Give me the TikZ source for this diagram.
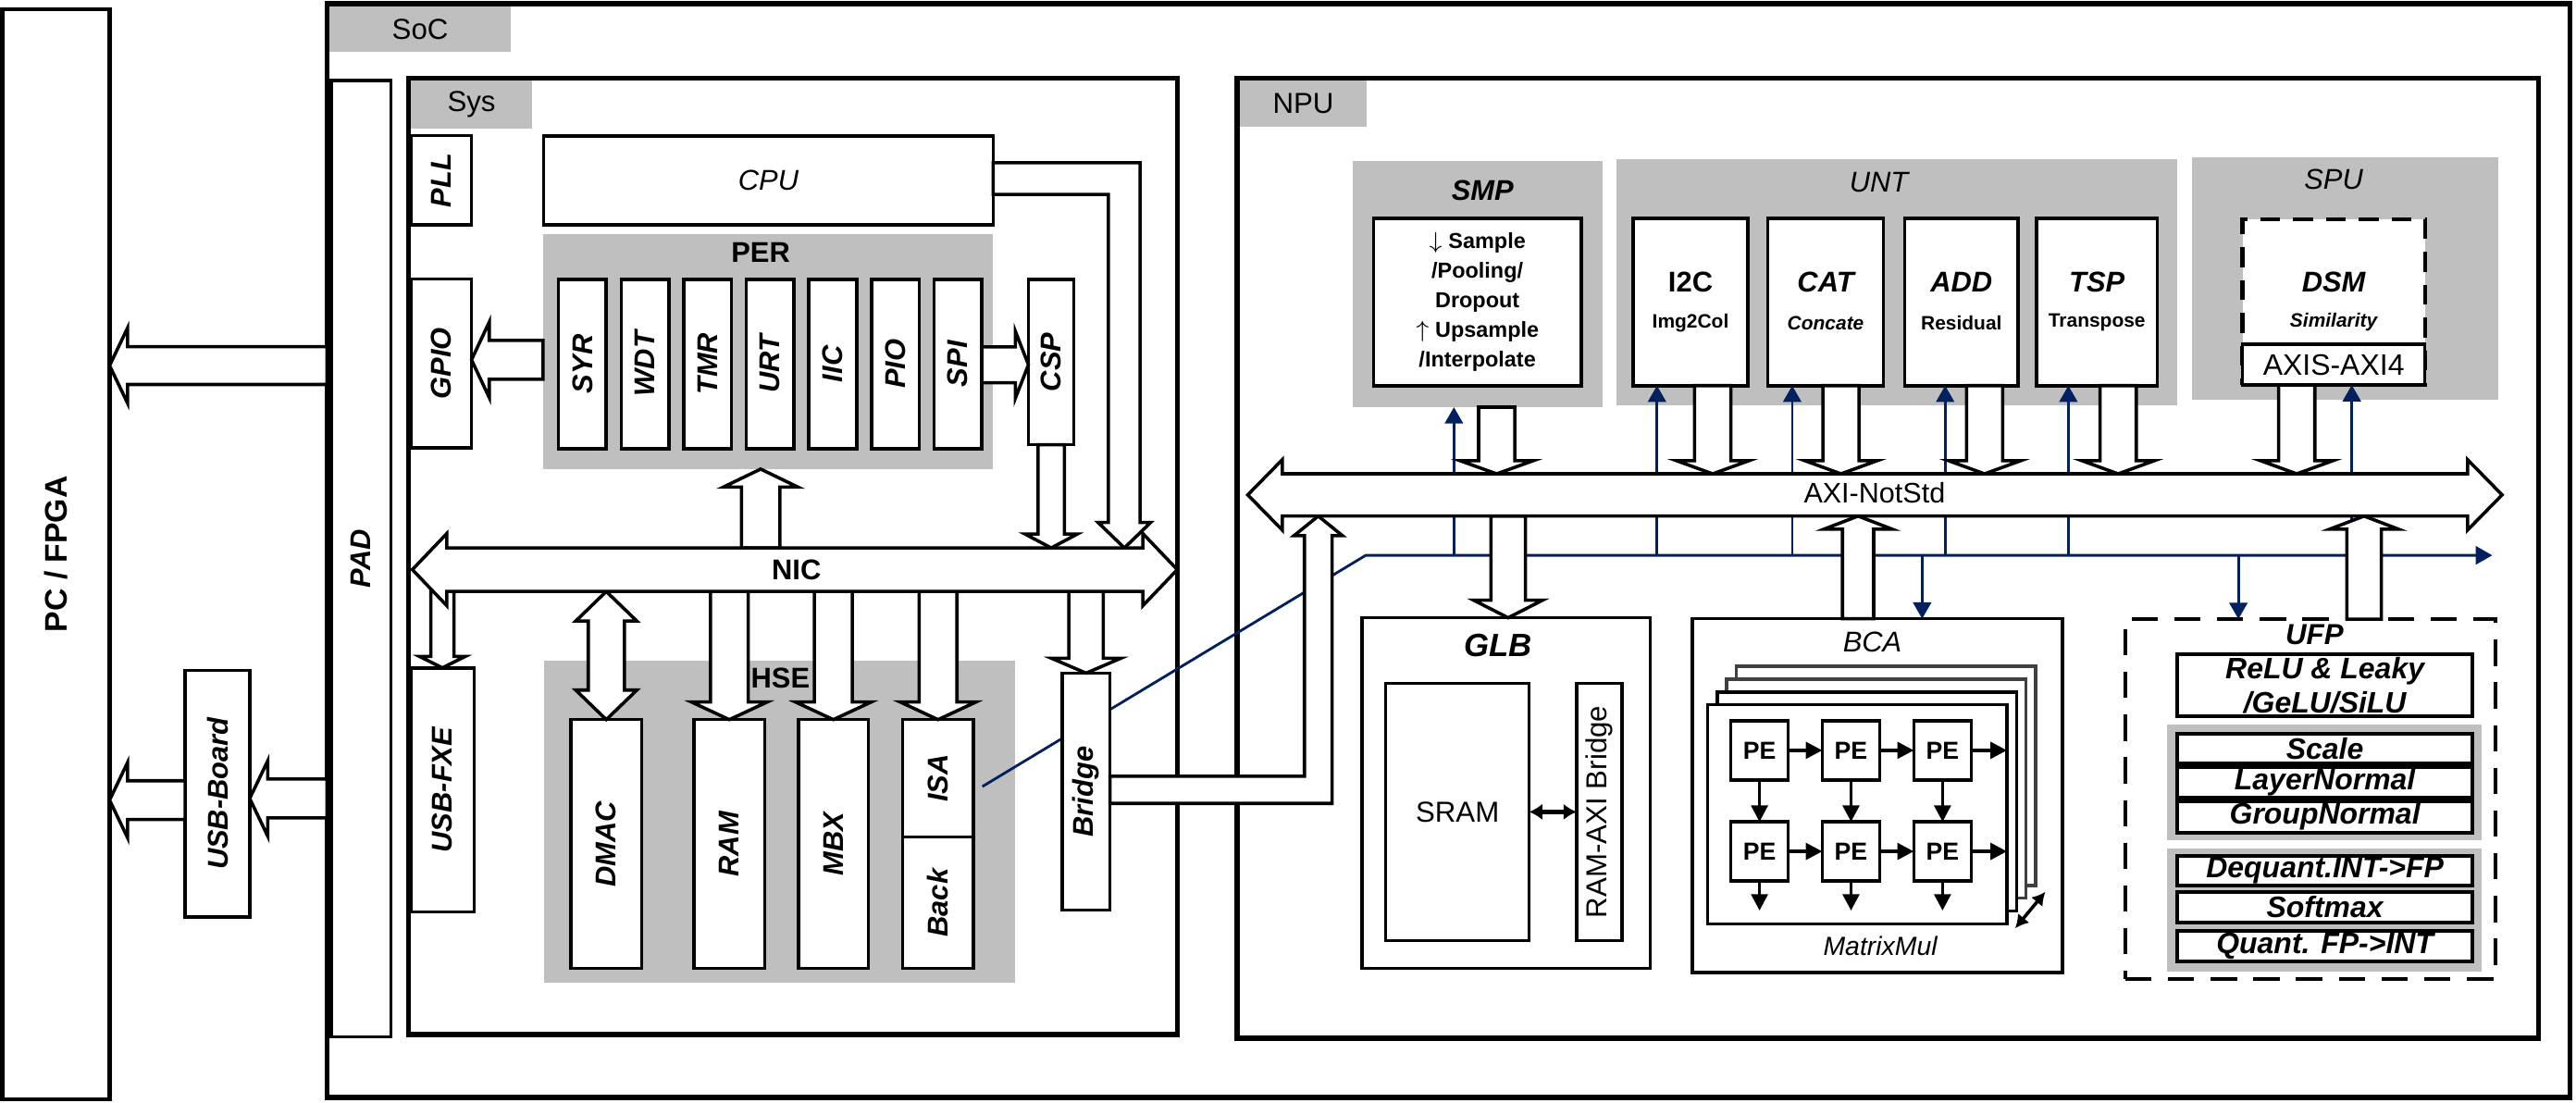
\documentclass[tikz,border=0pt]{standalone}
\usepackage{fontspec}
\setmainfont{Liberation Sans}
\usetikzlibrary{calc,arrows.meta}

\definecolor{boxgray}{RGB}{191,191,191}
\definecolor{busblue}{RGB}{0,32,96}
\definecolor{laygray}{RGB}{64,64,64}

\newcommand{\fs}[1]{\fontsize{#1}{#1}\selectfont}

% block given by its corners (pixel units)
\newcommand{\blk}[7][]{%
  \node[box, minimum width={((#5)-(#3))*0.5pt}, minimum height={((#6)-(#4))*0.5pt}, #1]
    (#2) at ({((#3)+(#5))/2},{((#4)+(#6))/2}) {#7};}

% hollow arrow: tail, tip, shaft half width, head half width, head length
\newcommand{\fatarrow}[5]{%
  \path let \p1=#1, \p2=#2 in \pgfextra{%
    \pgfmathsetmacro\fatA{atan2((\y2)-(\y1),(\x2)-(\x1))}%
    \pgfmathsetmacro\fatL{veclen((\x2)-(\x1),(\y2)-(\y1))}%
    \xdef\fatang{\fatA}\xdef\fatlen{\fatL}\xdef\fatx{\x1}\xdef\faty{\y1}};
  \draw[fat, shift={(\fatx,\faty)}, rotate=\fatang]
    (0pt,{-#3*0.5pt}) -- ({\fatlen*1pt-#5*0.5pt},{-#3*0.5pt}) -- ({\fatlen*1pt-#5*0.5pt},{-#4*0.5pt})
    -- ({\fatlen*1pt},0pt) -- ({\fatlen*1pt-#5*0.5pt},{#4*0.5pt}) -- ({\fatlen*1pt-#5*0.5pt},{#3*0.5pt})
    -- (0pt,{#3*0.5pt}) -- cycle;}

% hollow arrow with two heads
\newcommand{\fatdouble}[5]{%
  \path let \p1=#1, \p2=#2 in \pgfextra{%
    \pgfmathsetmacro\fatA{atan2((\y2)-(\y1),(\x2)-(\x1))}%
    \pgfmathsetmacro\fatL{veclen((\x2)-(\x1),(\y2)-(\y1))}%
    \xdef\fatang{\fatA}\xdef\fatlen{\fatL}\xdef\fatx{\x1}\xdef\faty{\y1}};
  \draw[fat, shift={(\fatx,\faty)}, rotate=\fatang]
    ({#5*0.5pt},{-#3*0.5pt}) -- ({\fatlen*1pt-#5*0.5pt},{-#3*0.5pt}) -- ({\fatlen*1pt-#5*0.5pt},{-#4*0.5pt})
    -- ({\fatlen*1pt},0pt) -- ({\fatlen*1pt-#5*0.5pt},{#4*0.5pt}) -- ({\fatlen*1pt-#5*0.5pt},{#3*0.5pt})
    -- ({#5*0.5pt},{#3*0.5pt}) -- ({#5*0.5pt},{#4*0.5pt}) -- (0pt,0pt) -- ({#5*0.5pt},{-#4*0.5pt}) -- cycle;}

\tikzset{
  box/.style={draw, line width=1pt, fill=white, inner sep=0pt, outer sep=0pt},
  outerbox/.style={line width=1.5pt},
  grp/.style={draw=none, fill=boxgray},
  fat/.style={draw, line width=1pt, fill=white},
  sig/.style={draw=busblue, line width=0.8pt, -{Triangle[length=5pt,width=5.5pt]}},
  pearr/.style={line width=1pt, -{Triangle[length=5pt,width=5pt]}},
  tR/.style={font=\fs{8.8}},
  tB/.style={font=\fs{8.7}\bfseries},
  tI/.style={font=\fs{8.7}\itshape},
  tBI/.style={font=\fs{8.7}\bfseries\itshape},
  tS/.style={font=\fs{5.9}\bfseries},
  tSI/.style={font=\fs{5.9}\bfseries\itshape},
  tU/.style={font=\fs{9}\bfseries\itshape}
}

\begin{document}
\begin{tikzpicture}[x=0.5pt, y=-0.5pt]
\useasboundingbox (0,0) rectangle (1568,671);

% host and SoC frame
\blk[outerbox, line width=1.25pt, font=\fs{9.5}\bfseries]{pc}{1.5}{5.5}{66.7}{669}{\rotatebox{90}{PC / FPGA}}
\blk[outerbox]{soc}{199}{2.2}{1564.5}{668}{}
\blk[grp, tR]{soclbl}{200.5}{3.7}{311}{31.7}{SoC}
\blk[tBI]{pad}{201.5}{49}{238}{631}{\rotatebox{90}{PAD}}
\blk[tBI]{usbb}{112.7}{408}{152}{558}{\rotatebox{90}{USB-Board}}

% Sys
\blk[outerbox]{sys}{248.5}{47.5}{716.5}{629.7}{}
\blk[grp, tR]{syslbl}{250}{49}{324}{78}{Sys}
\blk[tBI]{pll}{250}{82.6}{287}{137}{\rotatebox{90}{PLL}}
\blk[tI]{cpu}{331}{82.7}{604.5}{137}{CPU}
\blk[grp]{per}{330.5}{142.4}{604.5}{285.5}{}
\node[tB] (perlbl) at (463,153.4) {PER};
\foreach \n/\lab [count=\pos from 0] in {syr/SYR,wdt/WDT,tmr/TMR,urt/URT,iic/IIC,pio/PIO,spi/SPI} {
  \blk[tBI]{\n}{340+38.1*\pos}{170}{369+38.1*\pos}{273}{\rotatebox{90}{\lab}}
}
\blk[tBI]{csp}{626}{170}{653.7}{270.7}{\rotatebox{90}{CSP}}
\blk[tBI]{gpio}{250}{169.7}{287}{272.7}{\rotatebox{90}{GPIO}}
\blk[tBI]{usbf}{250}{406.5}{288.6}{555}{\rotatebox{90}{USB-FXE}}
\blk[grp]{hse}{331}{402}{617.7}{598.4}{}
\node[tB] (hselbl) at (475,412.5) {HSE};
\blk[tBI]{dmac}{347.5}{438}{390.6}{589.5}{\rotatebox{90}{DMAC}}
\blk[tBI]{ram}{422.4}{438}{465.5}{589.5}{\rotatebox{90}{RAM}}
\blk[tBI]{mbx}{486}{438}{528.5}{589.5}{\rotatebox{90}{MBX}}
\blk[tBI]{isa}{549.5}{438}{592.5}{509.4}{\rotatebox{90}{ISA}}
\blk[tBI]{back}{549.5}{509.4}{592.5}{589.5}{\rotatebox{90}{Back}}

% NPU
\blk[outerbox]{npu}{753}{47.5}{1545}{632}{}
\blk[grp, tR]{npulbl}{754.6}{49}{832}{77}{NPU}
\blk[grp]{smp}{823.4}{98}{975.5}{247.8}{}
\node[tBI] (smplbl) at (902.4,115.7) {SMP};
\blk[font=\fontsize{6.6}{9}\selectfont\bfseries, align=center]{smpin}{836}{133}{962.5}{235}{$\downarrow$ Sample\\/Pooling/\\Dropout\\$\uparrow$ Upsample\\/Interpolate}
\blk[grp]{unt}{984}{97}{1325}{246.5}{}
\node[tI] (untlbl) at (1143.6,111) {UNT};
\blk{i2c}{994}{133}{1064}{234.7}{}
\node[tB] (i2ct) at (i2c |- 0,171.7) {I2C};
\node[tS] (i2cs) at (i2c |- 0,196.5) {Img2Col};
\blk{cat}{1076}{133}{1146.5}{234.7}{}
\node[tBI] (catt) at (cat |- 0,171.7) {CAT};
\node[tSI] (cats) at (cat |- 0,196.5) {Concate};
\blk{add}{1159.4}{133}{1228.4}{234.7}{}
\node[tBI] (addt) at (add |- 0,171.7) {ADD};
\node[tS] (adds) at (add |- 0,196.5) {Residual};
\blk{tsp}{1239.7}{133}{1313}{234.7}{}
\node[tBI] (tspt) at (tsp |- 0,171.7) {TSP};
\node[tS] (tsps) at (tsp |- 0,196.5) {Transpose};
\blk[grp]{spu}{1334}{95.8}{1520.7}{243.3}{}
\node[tI] (spulbl) at (1420.5,109.4) {SPU};
\blk[line width=1.2pt, dash pattern=on 6pt off 4pt]{dsm}{1365}{133.4}{1476}{234.3}{}
\node[tBI] (dsmt) at (dsm |- 0,171.9) {DSM};
\node[tSI] (dsms) at (dsm |- 0,195.9) {Similarity};
\blk[font=\fs{9}]{axis}{1365}{209.5}{1476}{234.3}{AXIS-AXI4}

\blk{glb}{829}{376}{1004.5}{589.5}{}
\node[font=\fs{9.8}\bfseries\itshape] (glblbl) at (912,392.6) {GLB};
\blk[tR]{sram}{843.5}{415.8}{930.8}{572.5}{SRAM}
\blk[tR]{rab}{959.7}{415.8}{987.3}{572.5}{\rotatebox{90}{RAM-AXI Bridge}}
\draw[line width=1.2pt, {Latex[length=4pt,width=5pt]}-{Latex[length=4pt,width=5pt]}] (sram.east) -- (rab.west);

\blk{bca}{1030}{376.6}{1255.5}{592}{}
\node[tI] (bcalbl) at (1139.7,391) {BCA};
\foreach \k/\c in {3/laygray,2/laygray,1/black} {
  \draw[line width=1pt, fill=white, draw=\c] ({1039.4+5.8*\k},{429-7.8*\k}) rectangle ++(182.2,133.3);
}
\blk{mm}{1039.4}{429}{1221.6}{562.3}{}
\foreach \r in {0,1} {
  \foreach \c in {0,1,2} {
    \node[box, minimum width=17.5pt, minimum height=18pt, font=\fs{7.5}\bfseries] (pe\r\c) at ({1071+55.7*\c},{456.7+61.5*\r}) {PE};
  }
}
\foreach \r in {0,1} {
  \foreach \c/\d in {0/1,1/2} {
    \draw[pearr] (pe\r\c.east) -- (pe\r\d.west);
  }
  \draw[pearr] (pe\r2.east) -- (pe\r2.east -| mm.east);
}
\foreach \c in {0,1,2} {
  \draw[pearr] (pe0\c.south) -- (pe1\c.north);
  \draw[pearr] (pe1\c.south) -- ++(0,18);
}
\coordinate (stkA) at (1226.6,565);
\coordinate (stkB) at (1245,542.8);
\draw[line width=1pt, {Latex[length=4pt,width=4.5pt]}-{Latex[length=4pt,width=4.5pt]}] (stkA) -- (stkB);
\node[font=\fs{8}\itshape] (mmlbl) at (1144.5,576) {MatrixMul};

\blk[line width=1.2pt, dash pattern=on 8pt off 5pt]{ufp}{1293.6}{376.8}{1519}{595.9}{}
\node[font=\fs{8.8}\bfseries\itshape] (ufplbl) at (1408.8,386.5) {UFP};
\blk[line width=1.15pt, align=center, font=\fontsize{9}{10.4}\selectfont\bfseries\itshape]{relu}{1325.3}{398.4}{1505}{436}{ReLU \& Leaky\\/GeLU/SiLU}
\blk[grp]{ufpa}{1319}{441}{1510.8}{511.6}{}
\foreach \n/\lab/\ya/\yb in {scale/Scale/446.6/464.7,lnorm/LayerNormal/466.8/485.5,gnorm/GroupNormal/487.6/506.7} {
  \blk[tU, line width=1.15pt]{\n}{1325.3}{\ya}{1505}{\yb}{\lab}
}
\blk[grp]{ufpb}{1319}{516.6}{1510.8}{591.6}{}
\foreach \n/\lab/\ya/\yb in {deq/Dequant.INT->FP/521/539.2,smax/Softmax/542.8/561.3,quant/Quant. FP->INT/566.8/585.2} {
  \blk[tU, line width=1.15pt]{\n}{1325.3}{\ya}{1505}{\yb}{\lab}
}

% bus reference lines
\coordinate (nicL) at (251,346.7);
\coordinate (nicR) at (716.6,346.7);
\coordinate (nicT) at (0,333.5);
\coordinate (nicB) at (0,360);
\coordinate (axiL) at (759.5,301.2);
\coordinate (axiR) at (1523,301.2);
\coordinate (axiT) at (0,288.4);
\coordinate (axiB) at (0,314.1);
\coordinate (sigY) at (0,338);

% control signals
\draw[sig] ($(isa.east)+(5.5,5)$) -- (831.3,0 |- sigY) -- (1517,0 |- sigY);
\foreach \xx/\m in {885/smp,1008.6/i2c,1090.9/cat,1184/add,1259/tsp,1431.5/axis} {
  \draw[sig] (\xx,0 |- sigY) -- (\xx,0 |- \m.south);
}
\draw[sig] (1170,0 |- sigY) -- (1170,0 |- bca.north);
\draw[sig] (1362.5,0 |- sigY) -- (1362.5,0 |- ufp.north);

\blk[tBI]{bridge}{646.6}{409.7}{675.6}{554}{\rotatebox{90}{Bridge}}

% Sys side data paths
\fatarrow{(soc.west |- 0,222.5)}{(pc.east |- 0,222.5)}{11.5}{23}{11}
\fatarrow{(soc.west |- 0,486)}{(usbb.east |- 0,486)}{11.8}{23}{11}
\fatarrow{(usbb.west |- 0,487)}{(pc.east |- 0,487)}{11.8}{23}{11}
\fatarrow{(per.west |- 0,219)}{(gpio.east |- 0,219)}{11.8}{23}{10.8}
\fatarrow{(spi.east |- 0,222)}{(csp.west |- 0,222)}{10.9}{20.5}{8}
\fatarrow{(csp.south)}{(csp.south |- nicT)}{8}{16}{8.5}
\draw[fat] (cpu.east |- 0,99) -- (694,99) -- (694,318) -- (700.4,318) -- (684.4,333.5) -- (668.4,318)
  -- (674.7,318) -- (674.7,118.3) -- (cpu.east |- 0,118.3) -- cycle;
\fatarrow{(463,0 |- nicT)}{(463,0 |- per.south)}{11.7}{22.8}{11}
\fatarrow{(usbf.north |- nicB)}{(usbf.north)}{7}{14}{7}
\fatdouble{(dmac.north |- nicB)}{(dmac.north)}{11}{18.6}{18}
\foreach \m in {ram,mbx,isa} {
  \fatarrow{(\m.north |- nicB)}{(\m.north)}{11.5}{23}{10.7}
}
\fatarrow{(bridge.north |- nicB)}{(bridge.north)}{10.5}{21}{9}
\fatdouble{(nicL)}{(nicR)}{13.2}{22}{21}
\node[tB] (niclbl) at (484.8,346.6) {NIC};
\draw[fat] (bridge.east |- 0,472.5) -- (794,472.5) -- (794,326) -- (787.7,326) -- (802.4,314.1) -- (817.1,326)
  -- (810.8,326) -- (810.8,489) -- (bridge.east |- 0,489) -- cycle;

% NPU data paths
\fatarrow{(911,0 |- smp.south)}{(911,0 |- axiT)}{11}{22.3}{8}
\foreach \xx/\m in {1042.5/i2c,1120.6/cat,1208/add,1289.3/tsp,1398/axis} {
  \fatarrow{(\xx,0 |- \m.south)}{(\xx,0 |- axiT)}{11}{22}{8}
}
\fatarrow{(918,0 |- axiB)}{(918,0 |- glb.north)}{10.5}{21}{10.7}
\fatarrow{(1131,0 |- bca.north)}{(1131,0 |- axiB)}{9.5}{20.8}{8}
\fatarrow{(1439,0 |- ufp.north)}{(1439,0 |- axiB)}{10.5}{21}{8}
\fatdouble{(axiL)}{(axiR)}{12.85}{21.4}{21}
\node[font=\fs{8.6}] (axilbl) at (1141,300.2) {AXI-NotStd};
\end{tikzpicture}
\end{document}
